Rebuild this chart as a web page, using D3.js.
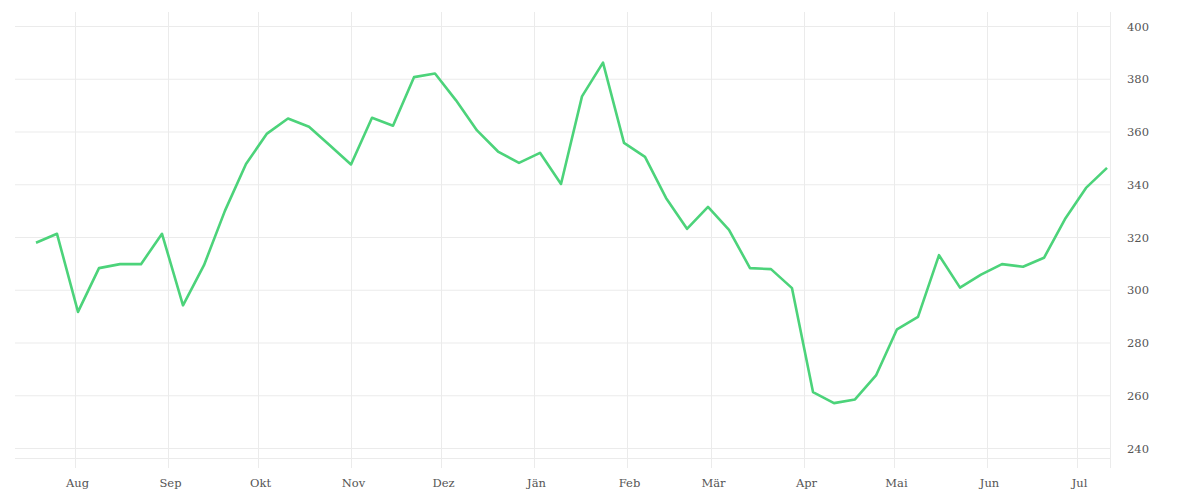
<!DOCTYPE html>
<html>
<head>
<meta charset="utf-8">
<script src="https://cdn.jsdelivr.net/npm/d3@7"></script>
<style>
  body { margin: 0; background: #fff; }
  svg { display: block; }
  .tick text { font-family: 'DejaVu Serif', serif; font-size: 11.5px; fill: #555; }
</style>
</head>
<body>
<div id="chart"></div>
<script>
// weekly values, starting Fri 19 Jul 2024
const startDate = '2024-07-19';
const values = [
  318, 321.4, 291.8, 308.4, 309.9, 309.9, 321.4, 294.3, 309.5, 330.2,
  347.9, 359.4, 365.1, 362.0, 354.9, 347.7, 365.4, 362.4, 380.8, 382.2,
  372.0, 360.6, 352.6, 348.3, 352.1, 340.3, 373.5, 386.3, 355.9, 350.6,
  335.0, 323.3, 331.6, 322.9, 308.4, 308.0, 300.8, 261.4, 257.2, 258.6,
  267.7, 285.2, 289.9, 313.3, 301.0, 305.9, 309.9, 308.9, 312.3, 327.0,
  338.8, 346.4
];
const monthNames = ['Jän', 'Feb', 'Mär', 'Apr', 'Mai', 'Jun', 'Jul', 'Aug', 'Sep', 'Okt', 'Nov', 'Dez'];
const yTicks = [240, 260, 280, 300, 320, 340, 360, 380, 400];

const width = 1200, height = 500;
const margin = { top: 12, right: 90, bottom: 42, left: 15 };

const parse = d3.timeParse('%Y-%m-%d');
const t0 = parse(startDate);
const data = values.map((v, i) => ({ date: d3.timeDay.offset(t0, i * 7), value: v }));

const svg = d3.select('#chart').append('svg')
  .attr('width', width)
  .attr('height', height);

const x = d3.scaleTime()
  .domain([parse('2024-07-12'), parse('2025-07-12')])
  .range([margin.left, width - margin.right]);

const y = d3.scaleLinear()
  .domain([236.4, 405.5])
  .range([height - margin.bottom, margin.top]);

const grid = '#ebebeb';

// horizontal grid
svg.append('g')
  .selectAll('line')
  .data(yTicks)
  .join('line')
  .attr('x1', margin.left)
  .attr('x2', width - margin.right)
  .attr('y1', d => y(d))
  .attr('y2', d => y(d))
  .attr('stroke', grid);

// bottom edge
svg.append('line')
  .attr('x1', margin.left)
  .attr('x2', width - margin.right)
  .attr('y1', height - margin.bottom + 0.5)
  .attr('y2', height - margin.bottom + 0.5)
  .attr('stroke', grid);

// x axis with gridlines reaching through the plot
const xAxis = d3.axisBottom(x)
  .ticks(d3.timeMonth.every(1))
  .tickFormat(d => monthNames[d.getMonth()])
  .tickSizeInner(-(height - margin.bottom - margin.top + 10))
  .tickSizeOuter(0)
  .tickPadding(11);

svg.append('g')
  .attr('transform', `translate(0,${height - margin.bottom + 10})`)
  .call(xAxis)
  .call(g => g.select('.domain').remove())
  .call(g => g.selectAll('.tick line').attr('stroke', grid))
  .call(g => g.selectAll('.tick text').attr('dx', '2px'));

// right edge
svg.append('line')
  .attr('x1', width - margin.right + 0.5)
  .attr('x2', width - margin.right + 0.5)
  .attr('y1', margin.top)
  .attr('y2', height - margin.bottom + 10)
  .attr('stroke', grid);

// y axis labels on the right
const yAxis = d3.axisRight(y)
  .tickValues(yTicks)
  .tickSize(0)
  .tickPadding(17);

svg.append('g')
  .attr('transform', `translate(${width - margin.right},0)`)
  .call(yAxis)
  .call(g => g.select('.domain').remove());

// line
const line = d3.line()
  .x(d => x(d.date))
  .y(d => y(d.value));

svg.append('path')
  .datum(data)
  .attr('fill', 'none')
  .attr('stroke', '#4cd37a')
  .attr('stroke-width', 2.6)
  .attr('stroke-linejoin', 'round')
  .attr('d', line);
</script>
</body>
</html>
